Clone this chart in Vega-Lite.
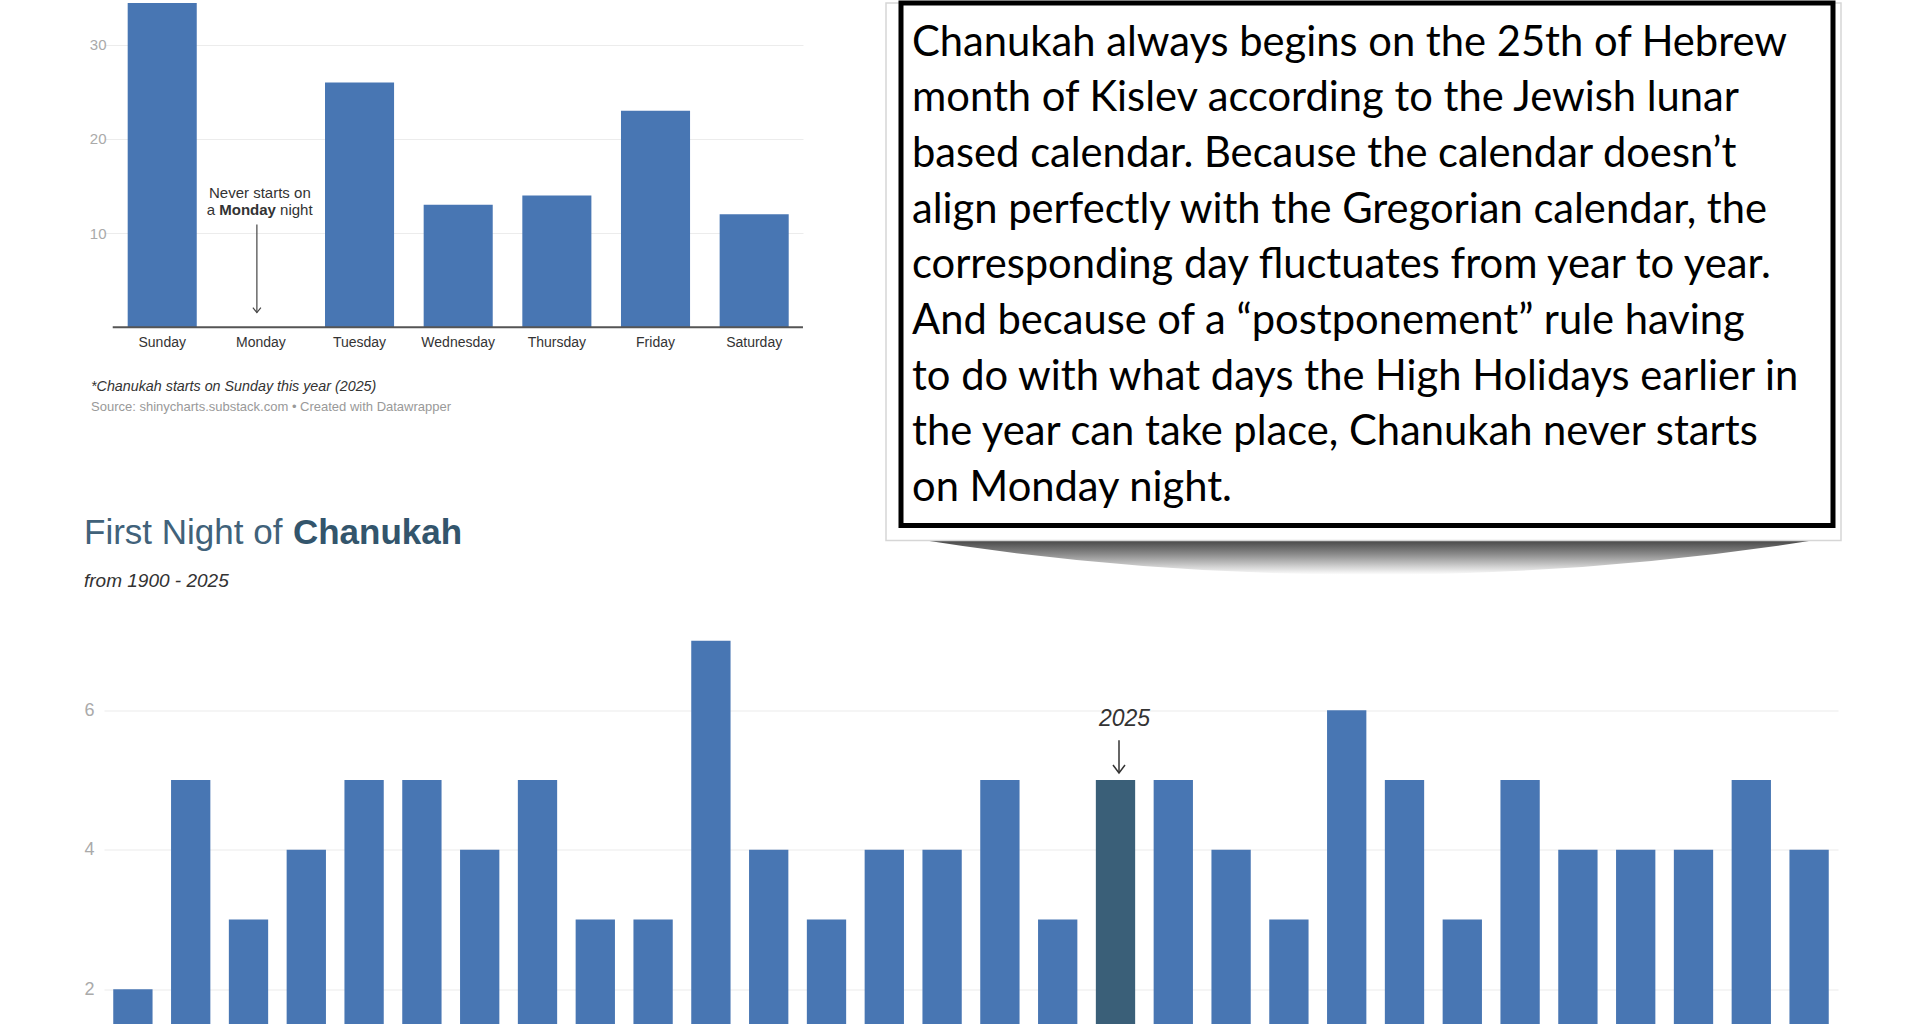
{
  "$schema": "https://vega.github.io/schema/vega-lite/v6.json",
  "background": "white",
  "padding": {"left": 83, "top": 0, "right": 0, "bottom": 0},
  "autosize": {"type": "pad"},
  "config": {"view": {"stroke": null}, "font": "Liberation Sans"},
  "bounds": "flush",
  "spacing": 114.5,
  "vconcat": [
    {
      "width": 1734,
      "height": 522.5,
      "resolve": {"scale": {"x": "independent", "y": "independent"}},
      "layer": [
        {
          "layer": [
            {
              "data": {"values": [
                {"day": "Sunday", "count": 38},
                {"day": "Monday", "count": 0},
                {"day": "Tuesday", "count": 26},
                {"day": "Wednesday", "count": 13},
                {"day": "Thursday", "count": 14},
                {"day": "Friday", "count": 23},
                {"day": "Saturday", "count": 12}
              ]},
              "mark": {"type": "bar", "color": "#4876b3"},
              "encoding": {
                "x": {"field": "day", "type": "nominal", "sort": null,
                  "scale": {"domain": ["Sunday", "Monday", "Tuesday", "Wednesday", "Thursday", "Friday", "Saturday"], "range": [0, 699], "paddingInner": 0.3, "paddingOuter": 0.1925, "align": 0.6237},
                  "axis": {"title": null, "labelAngle": 0, "labelFontSize": 14, "labelColor": "#333333", "labelPadding": 8, "ticks": false, "tickSize": 0, "domain": false, "offset": -198.3}},
                "y": {"field": "count", "type": "quantitative",
                  "scale": {"domain": [0, 34.44], "range": [324.2, 0], "nice": false, "clamp": true},
                  "axis": {"title": null, "values": [10, 20, 30], "grid": true, "gridColor": "#ececec", "domain": false, "ticks": false, "tickSize": 0, "labelPadding": -2, "labelFontSize": 15, "labelColor": "#aaaaaa"}}
              }
            },
            {
              "data": {"values": [{}]},
              "mark": {"type": "rule", "color": "#555555", "strokeWidth": 2, "xOffset": -49.5, "x2Offset": 48.8},
              "encoding": {"x": {"datum": "Sunday"}, "x2": {"datum": "Saturday"}, "y": {"datum": 0}}
            },
            {
              "data": {"values": [{"note": "Never starts on"}]},
              "mark": {"type": "text", "fontSize": 15, "color": "#333333", "align": "center", "baseline": "alphabetic", "dx": -1},
              "encoding": {"x": {"datum": "Monday"}, "y": {"datum": 13.68}, "text": {"field": "note"}}
            },
            {
              "data": {"values": [{"note": "a"}]},
              "mark": {"type": "text", "fontSize": 15, "color": "#333333", "align": "right", "baseline": "alphabetic", "dx": -45.8},
              "encoding": {"x": {"datum": "Monday"}, "y": {"datum": 11.87}, "text": {"field": "note"}}
            },
            {
              "data": {"values": [{"note": "Monday"}]},
              "mark": {"type": "text", "fontSize": 15, "fontWeight": "bold", "color": "#333333", "align": "center", "baseline": "alphabetic", "dx": -13.3},
              "encoding": {"x": {"datum": "Monday"}, "y": {"datum": 11.87}, "text": {"field": "note"}}
            },
            {
              "data": {"values": [{"note": "night"}]},
              "mark": {"type": "text", "fontSize": 15, "color": "#333333", "align": "left", "baseline": "alphabetic", "dx": 19.2},
              "encoding": {"x": {"datum": "Monday"}, "y": {"datum": 11.87}, "text": {"field": "note"}}
            },
            {
              "data": {"values": [{}]},
              "mark": {"type": "rule", "color": "#444444", "strokeWidth": 1.2, "xOffset": -4},
              "encoding": {"x": {"datum": "Monday"}, "y": {"datum": 10.91}, "y2": {"datum": 1.56}}
            },
            {
              "data": {"values": [{}]},
              "mark": {"type": "point", "shape": "M-0.8,-1L0,0L0.8,-1", "size": 100, "filled": false, "color": "#444444", "strokeWidth": 1.2, "opacity": 1, "xOffset": -4},
              "encoding": {"x": {"datum": "Monday"}, "y": {"datum": 1.56}}
            },
            {
              "data": {"values": [{"note": "*Chanukah starts on Sunday this year (2025)"}]},
              "mark": {"type": "text", "fontSize": 14.3, "fontStyle": "italic", "color": "#333333", "align": "left", "baseline": "alphabetic", "dx": -71.2, "dy": 63.3},
              "encoding": {"x": {"datum": "Sunday"}, "y": {"datum": 0}, "text": {"field": "note"}}
            },
            {
              "data": {"values": [{"note": "Source: shinycharts.substack.com • Created with Datawrapper"}]},
              "mark": {"type": "text", "fontSize": 13, "color": "#999999", "align": "left", "baseline": "alphabetic", "dx": -71.2, "dy": 84},
              "encoding": {"x": {"datum": "Sunday"}, "y": {"datum": 0}, "text": {"field": "note"}}
            }
          ]
        },
        {
          "layer": [
            {
              "data": {"values": [{}]},
              "mark": {"type": "point", "shape": "M-1,0L1,0Q0,0.16,-1,0Z", "size": 850000, "filled": true, "opacity": 1, "strokeWidth": 0,
                "fill": {"gradient": "linear", "x1": 0, "y1": 0, "x2": 0, "y2": 1, "stops": [{"offset": 0, "color": "#3a3a3a"}, {"offset": 0.45, "color": "#8c8c8c"}, {"offset": 1, "color": "#ffffff"}]}},
              "encoding": {
                "x": {"datum": 0.502, "type": "quantitative", "scale": {"domain": [-0.85515, 1.00537], "nice": false, "zero": false}, "axis": null},
                "y": {"datum": 9.66, "type": "quantitative", "scale": {"domain": [0.0574, 9.438], "reverse": true, "nice": false, "zero": false}, "axis": null}
              }
            },
            {
              "data": {"values": [{}]},
              "mark": {"type": "rect", "fill": "white", "stroke": "#d6d6d6", "strokeWidth": 1.5},
              "encoding": {
                "x": {"datum": -0.0161, "type": "quantitative"},
                "x2": {"datum": 1.0086},
                "y": {"datum": 0.0574, "type": "quantitative"},
                "y2": {"datum": 9.707}
              }
            },
            {
              "data": {"values": [{}]},
              "mark": {"type": "rect", "fill": "white", "fillOpacity": 0, "stroke": "black", "strokeWidth": 5},
              "encoding": {
                "x": {"datum": 0, "type": "quantitative"},
                "x2": {"datum": 1},
                "y": {"datum": 0.0574, "type": "quantitative"},
                "y2": {"datum": 9.438}
              }
            },
            {
              "data": {"values": [
                {"line": 1, "text": "Chanukah always begins on the 25th of Hebrew"},
                {"line": 2, "text": "month of Kislev according to the Jewish lunar"},
                {"line": 3, "text": "based calendar. Because the calendar doesn’t"},
                {"line": 4, "text": "align perfectly with the Gregorian calendar, the"},
                {"line": 5, "text": "corresponding day fluctuates from year to year."},
                {"line": 6, "text": "And because of a “postponement” rule having"},
                {"line": 7, "text": "to do with what days the High Holidays earlier in"},
                {"line": 8, "text": "the year can take place, Chanukah never starts"},
                {"line": 9, "text": "on Monday night."}
              ]},
              "mark": {"type": "text", "font": "Lato", "fontSize": 41.7, "align": "left", "baseline": "alphabetic", "dx": 11, "color": "#000000"},
              "encoding": {
                "x": {"datum": 0, "type": "quantitative"},
                "y": {"field": "line", "type": "quantitative"},
                "text": {"field": "text"}
              }
            }
          ]
        }
      ]
    },
    {
      "width": 1734,
      "height": 384.5,
      "layer": [
        {
          "data": {"values": [
            {"date": "Nov 27", "count": 2}, {"date": "Nov 28", "count": 5}, {"date": "Nov 29", "count": 3},
            {"date": "Nov 30", "count": 4}, {"date": "Dec 1", "count": 5}, {"date": "Dec 2", "count": 5},
            {"date": "Dec 3", "count": 4}, {"date": "Dec 4", "count": 5}, {"date": "Dec 5", "count": 3},
            {"date": "Dec 6", "count": 3}, {"date": "Dec 7", "count": 7}, {"date": "Dec 8", "count": 4},
            {"date": "Dec 9", "count": 3}, {"date": "Dec 10", "count": 4}, {"date": "Dec 11", "count": 4},
            {"date": "Dec 12", "count": 5}, {"date": "Dec 13", "count": 3}, {"date": "Dec 14", "count": 5},
            {"date": "Dec 15", "count": 5}, {"date": "Dec 16", "count": 4}, {"date": "Dec 17", "count": 3},
            {"date": "Dec 18", "count": 6}, {"date": "Dec 19", "count": 5}, {"date": "Dec 20", "count": 3},
            {"date": "Dec 21", "count": 5}, {"date": "Dec 22", "count": 4}, {"date": "Dec 23", "count": 4},
            {"date": "Dec 24", "count": 4}, {"date": "Dec 25", "count": 5}, {"date": "Dec 26", "count": 4}
          ]},
          "mark": {"type": "bar", "clip": true},
          "encoding": {
            "x": {"field": "date", "type": "nominal", "sort": null, "scale": {"paddingInner": 0.32, "paddingOuter": 0.16}, "axis": null},
            "y": {"field": "count", "type": "quantitative",
              "scale": {"domain": [1.488, 7], "nice": false, "zero": false, "clamp": true},
              "axis": {"title": null, "values": [2, 4, 6], "format": "d", "grid": true, "gridColor": "#ebebeb", "domain": false, "ticks": false, "tickSize": 0, "labelPadding": 10, "labelFontSize": 18, "labelColor": "#aaaaaa"}},
            "y2": {"datum": 0},
            "color": {"condition": {"test": "datum.date === 'Dec 14'", "value": "#3a5f78"}, "value": "#4876b3"}
          }
        },
        {
          "data": {"values": [{"note": "First Night of"}]},
          "mark": {"type": "text", "fontSize": 35, "color": "#41627a", "align": "left", "baseline": "alphabetic", "dx": -48.9, "dy": -96.7},
          "encoding": {"x": {"datum": "Nov 27"}, "y": {"datum": 7}, "text": {"field": "note"}}
        },
        {
          "data": {"values": [{"note": "Chanukah"}]},
          "mark": {"type": "text", "fontSize": 35, "fontWeight": "bold", "color": "#33556c", "align": "left", "baseline": "alphabetic", "dx": 160, "dy": -96.7},
          "encoding": {"x": {"datum": "Nov 27"}, "y": {"datum": 7}, "text": {"field": "note"}}
        },
        {
          "data": {"values": [{"note": "from 1900 - 2025"}]},
          "mark": {"type": "text", "fontSize": 19, "fontStyle": "italic", "color": "#333333", "align": "left", "baseline": "alphabetic", "dx": -48.9, "dy": -53.5},
          "encoding": {"x": {"datum": "Nov 27"}, "y": {"datum": 7}, "text": {"field": "note"}}
        },
        {
          "data": {"values": [{"note": "2025"}]},
          "mark": {"type": "text", "fontSize": 23, "fontStyle": "italic", "color": "#333333", "align": "center", "baseline": "alphabetic", "dx": 9, "dy": -54},
          "encoding": {"x": {"datum": "Dec 14"}, "y": {"datum": 5}, "text": {"field": "note"}}
        },
        {
          "data": {"values": [{}]},
          "mark": {"type": "rule", "color": "#333333", "strokeWidth": 1.5, "xOffset": 3.5},
          "encoding": {"x": {"datum": "Dec 14"}, "y": {"datum": 5.57}, "y2": {"datum": 5.10}}
        },
        {
          "data": {"values": [{}]},
          "mark": {"type": "point", "shape": "M-0.75,-1L0,0L0.75,-1", "size": 256, "filled": false, "color": "#333333", "strokeWidth": 1.5, "opacity": 1, "xOffset": 3.5},
          "encoding": {"x": {"datum": "Dec 14"}, "y": {"datum": 5.10}}
        }
      ]
    }
  ]
}
